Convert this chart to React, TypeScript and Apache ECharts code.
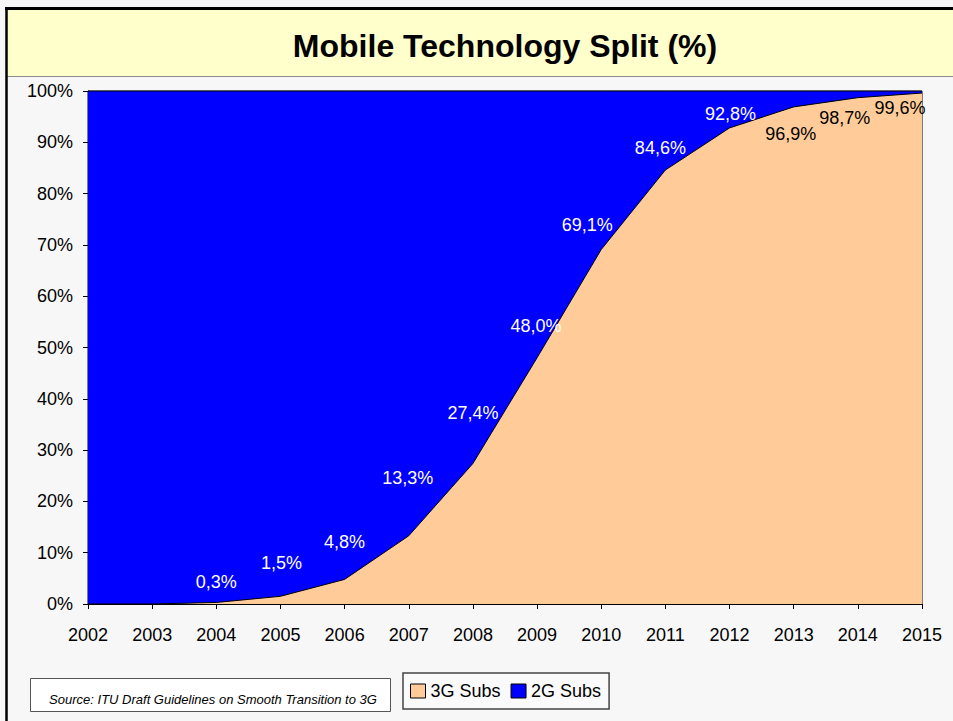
import React, { useEffect, useRef } from "react";
import * as echarts from "echarts";

const years = ["2002", "2003", "2004", "2005", "2006", "2007", "2008", "2009", "2010", "2011", "2012", "2013", "2014", "2015"];
const subs3G = [0, 0, 0.3, 1.5, 4.8, 13.3, 27.4, 48.0, 69.1, 84.6, 92.8, 96.9, 98.7, 99.6];
const subs2G = [100, 100, 99.7, 98.5, 95.2, 86.7, 72.6, 52.0, 30.9, 15.4, 7.2, 3.1, 1.3, 0.4];
const yTicks = [0, 10, 20, 30, 40, 50, 60, 70, 80, 90, 100];

// label placement (styling) per year: [dx, dy, color]
const labelStyle: Record<string, [number, number, string]> = {
  "2004": [0, -20, "#ffffff"],
  "2005": [1, -33, "#ffffff"],
  "2006": [0, -37, "#ffffff"],
  "2007": [-1, -58, "#ffffff"],
  "2008": [0, -50, "#ffffff"],
  "2009": [-1, -32, "#ffffff"],
  "2010": [-14, -25, "#ffffff"],
  "2011": [-5, -22, "#ffffff"],
  "2012": [1, -14, "#ffffff"],
  "2013": [-3, 27, "#000000"],
  "2014": [-13, 20, "#000000"],
  "2015": [-22, 15, "#000000"],
};

const FONT = "'Liberation Sans', Arial, Helvetica, sans-serif";

export default function App() {
  const ref = useRef<HTMLDivElement>(null);
  useEffect(() => {
    document.body.style.margin = "0";
    document.body.style.overflow = "hidden";
    document.body.style.background = "#F7F7F7";
    const chart = echarts.init(ref.current!, null, { renderer: "svg" });
    const labelData = years
      .map((y, i) => ({ y, v: subs3G[i] }))
      .filter((d) => labelStyle[d.y])
      .map((d) => ({
        value: [d.y, d.v],
        label: {
          offset: [labelStyle[d.y][0], labelStyle[d.y][1]],
          color: labelStyle[d.y][2],
          opacity: 1,
          textBorderWidth: 0,
        },
      }));
    chart.setOption({
      animation: false,
      backgroundColor: "#F7F7F7",
      textStyle: { fontFamily: FONT },
      graphic: [
        { type: "rect", shape: { x: 7, y: 9, width: 980, height: 67 }, style: { fill: "#FFFFCC" } },
        { type: "line", shape: { x1: 7, y1: 76.5, x2: 980, y2: 76.5 }, style: { stroke: "#8a8a8a", lineWidth: 1 } },
        { type: "line", shape: { x1: 5, y1: 8.5, x2: 980, y2: 8.5 }, style: { stroke: "#000", lineWidth: 3 } },
        { type: "line", shape: { x1: 6.5, y1: 7, x2: 6.5, y2: 721 }, style: { stroke: "#000", lineWidth: 2.5 } },
        {
          type: "text", x: 505, y: 46,
          style: { text: "Mobile Technology Split (%)", fontSize: 32, fontWeight: "bold", fontFamily: FONT, fill: "#000", textAlign: "center", textVerticalAlign: "middle" },
        },
        { type: "rect", shape: { x: 30.5, y: 678.5, width: 360, height: 33 }, style: { fill: "#fff", stroke: "#555", lineWidth: 1 } },
        {
          type: "text", x: 213, y: 699,
          style: { text: "Source: ITU Draft Guidelines on Smooth Transition to 3G", fontSize: 13, fontStyle: "italic", fontFamily: FONT, fill: "#000", textAlign: "center", textVerticalAlign: "middle" },
        },
      ],
      legend: {
        data: ["3G Subs", "2G Subs"],
        left: 403, top: 673,
        orient: "horizontal",
        padding: [9, 8, 9, 7],
        itemGap: 10, itemWidth: 15, itemHeight: 14,
        icon: "rect",
        backgroundColor: "#FAFAFA",
        borderColor: "#444", borderWidth: 1.5,
        itemStyle: { borderColor: "#000", borderWidth: 1 },
        textStyle: { fontSize: 18, color: "#000", fontFamily: FONT, padding: [0, 0, 0, 0] },
      },
      grid: { left: 88, right: 31, top: 91, bottom: 117, show: true, borderColor: "#000", borderWidth: 1, backgroundColor: "transparent" },
      xAxis: {
        type: "category", data: years, boundaryGap: false,
        axisLine: { show: true, lineStyle: { color: "#000", width: 1 } },
        axisTick: { show: true, length: 5, lineStyle: { color: "#000" } },
        axisLabel: { fontSize: 18, color: "#000", margin: 22, fontFamily: FONT },
        splitLine: { show: false },
      },
      yAxis: {
        type: "value", min: yTicks[0], max: yTicks[yTicks.length - 1], interval: 10,
        axisLine: { show: true, lineStyle: { color: "#000", width: 1 } },
        axisTick: { show: true, length: 5, lineStyle: { color: "#000" } },
        axisLabel: { fontSize: 18, color: "#000", margin: 15, formatter: "{value}%", fontFamily: FONT },
        splitLine: { show: false },
      },
      series: [
        {
          name: "3G Subs", type: "line", stack: "total", data: subs3G,
          symbol: "none", color: "#FFCC99",
          itemStyle: { color: "#FFCC99" },
          lineStyle: { color: "#000", width: 1 },
          areaStyle: { color: "#FFCC99", opacity: 1 },
        },
        {
          name: "2G Subs", type: "line", stack: "total", data: subs2G,
          symbol: "none", color: "#0000FF",
          itemStyle: { color: "#0000FF" },
          lineStyle: { color: "#000", width: 1 },
          areaStyle: { color: "#0000FF", opacity: 1 },
        },
        {
          name: "labels", type: "scatter", data: labelData,
          symbolSize: 1, silent: true, clip: false, z: 10,
          itemStyle: { color: "rgba(0,0,0,0)", opacity: 1 },
          label: {
            show: true, position: "inside", fontSize: 18, fontFamily: FONT, opacity: 1,
            textBorderWidth: 0,
            formatter: (p: any) => String(p.value[1].toFixed(1)).replace(".", ",") + "%",
          },
        },
      ],
    });
    return () => chart.dispose();
  }, []);
  return <div ref={ref} style={{ width: 953, height: 721 }} />;
}
